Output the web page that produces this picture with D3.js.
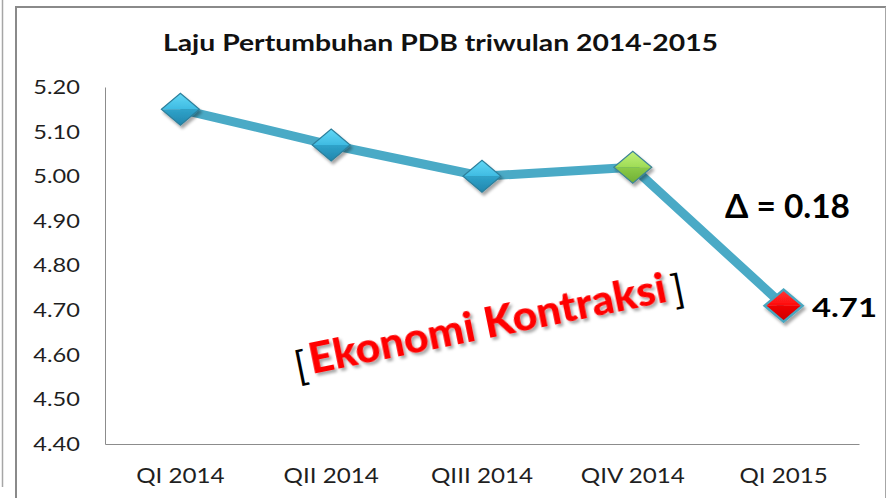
<!DOCTYPE html>
<html>
<head>
<meta charset="utf-8">
<script src="https://cdn.jsdelivr.net/npm/d3@7"></script>
<style>
  body { margin: 0; background: #fff; }
  svg { display: block; }
  text { font-family: Lato, "Open Sans", sans-serif; }
</style>
</head>
<body>
<div id="chart"></div>
<script>
// data
const quarters = ["QI 2014", "QII 2014", "QIII 2014", "QIV 2014", "QI 2015"];
const growth = [5.15, 5.07, 5.00, 5.02, 4.71];
const yTicks = [4.40, 4.50, 4.60, 4.70, 4.80, 4.90, 5.00, 5.10, 5.20];
const title = "Laju Pertumbuhan PDB triwulan 2014-2015";
const deltaText = "Δ = 0.18";
const noteText = "Ekonomi Kontraksi";

// marker look per point (style, not data)
const markerStyle = ["blue", "blue", "blue", "green", "red"];

const W = 887, H = 498;
const plot = { left: 105, right: 859, top: 87, bottom: 444 };

const svg = d3.select("#chart").append("svg")
  .attr("width", W)
  .attr("height", H);

const defs = svg.append("defs");

// gradients for the bevelled diamonds
const grads = {
  blue:  { top: ["#62d8f6", "#3fbbe2"], bot: ["#2fa3ca", "#2286ad"], edge: "#2d7f9b" },
  green: { top: ["#bff07a", "#9fdc55"], bot: ["#8ccb48", "#6fae35"], edge: "#3d8396" },
  red:   { top: ["#ff3a3a", "#ff0a0a"], bot: ["#f00000", "#cc0000"], edge: "#49a6bf" }
};
Object.keys(grads).forEach(k => {
  ["top", "bot"].forEach(part => {
    const g = defs.append("linearGradient")
      .attr("id", `g-${k}-${part}`)
      .attr("x1", 0).attr("y1", 0).attr("x2", 0).attr("y2", 1);
    g.append("stop").attr("offset", "0%").attr("stop-color", grads[k][part][0]);
    g.append("stop").attr("offset", "100%").attr("stop-color", grads[k][part][1]);
  });
});

const shadow = defs.append("filter").attr("id", "shadow")
  .attr("x", "-30%").attr("y", "-30%").attr("width", "160%").attr("height", "160%");
shadow.append("feDropShadow")
  .attr("dx", 2).attr("dy", 3).attr("stdDeviation", 1.6)
  .attr("flood-color", "#000").attr("flood-opacity", 0.35);

// stretch text a bit wider (the original picture is widened)
function stretch(sel, k) {
  sel.each(function() {
    const w = this.getComputedTextLength();
    d3.select(this).attr("textLength", w * k).attr("lengthAdjust", "spacingAndGlyphs");
  });
}
function fitTo(sel, w) {
  sel.attr("textLength", w).attr("lengthAdjust", "spacingAndGlyphs");
}

// frame lines
svg.append("line").attr("x1", 2.5).attr("x2", 2.5).attr("y1", 0).attr("y2", 487)
  .attr("stroke", "#a6a6a6").attr("stroke-width", 1.5);
svg.append("line").attr("x1", 16).attr("x2", 16).attr("y1", 6).attr("y2", H)
  .attr("stroke", "#8a8a8a").attr("stroke-width", 2);
svg.append("line").attr("x1", 15).attr("x2", 886).attr("y1", 7).attr("y2", 7)
  .attr("stroke", "#8a8a8a").attr("stroke-width", 2);
svg.append("line").attr("x1", 885.5).attr("x2", 885.5).attr("y1", 7).attr("y2", H)
  .attr("stroke", "#a6a6a6").attr("stroke-width", 1);

// scales
const x = d3.scaleBand()
  .domain(quarters)
  .range([plot.left, plot.right]);

const y = d3.scaleLinear()
  .domain([4.40, 5.20])
  .range([plot.bottom, plot.top]);

// axes
const yAxis = svg.append("g")
  .attr("transform", `translate(${plot.left},0)`)
  .call(d3.axisLeft(y).tickValues(yTicks).tickFormat(d3.format(".2f")).tickSize(0).tickPadding(25));
yAxis.select(".domain").attr("stroke", "#8c8c8c");
yAxis.selectAll("text")
  .style("font-size", "20px")
  .attr("fill", "#1f1f1f");
stretch(yAxis.selectAll("text"), 1.18);

const xAxis = svg.append("g")
  .attr("transform", `translate(0,${plot.bottom})`)
  .call(d3.axisBottom(x).tickSize(0).tickPadding(24));
xAxis.select(".domain").attr("stroke", "#8c8c8c");
xAxis.selectAll("text")
  .style("font-size", "20.5px")
  .attr("fill", "#1f1f1f");
stretch(xAxis.selectAll("text"), 1.18);

// title
const t = svg.append("text")
  .attr("x", 440.5)
  .attr("y", 51)
  .attr("text-anchor", "middle")
  .style("font-size", "22px")
  .style("font-weight", "bold")
  .attr("fill", "#111")
  .text(title);
fitTo(t, 555);

// line
const pts = quarters.map((q, i) => ({ q, v: growth[i], kind: markerStyle[i] }));
const line = d3.line()
  .x(d => x(d.q) + x.bandwidth() / 2)
  .y(d => y(d.v));

svg.append("path")
  .datum(pts)
  .attr("d", line)
  .attr("fill", "none")
  .attr("stroke", "#4aaac6")
  .attr("stroke-width", 9)
  .attr("stroke-linejoin", "round");

// diamond markers
const hw = 19, hh = 16;
const mk = svg.selectAll("g.marker")
  .data(pts)
  .enter()
  .append("g")
  .attr("class", "marker")
  .attr("transform", d => `translate(${x(d.q) + x.bandwidth() / 2},${y(d.v)})`)
  .attr("filter", "url(#shadow)");

mk.append("path")
  .attr("d", `M${-hw},0 L0,${-hh} L${hw},0 Z`)
  .attr("fill", d => `url(#g-${d.kind}-top)`);
mk.append("path")
  .attr("d", `M${-hw},0 L${hw},0 L0,${hh} Z`)
  .attr("fill", d => `url(#g-${d.kind}-bot)`);
mk.append("path")
  .attr("d", `M${-hw},0 L0,${-hh} L${hw},0 L0,${hh} Z`)
  .attr("fill", "none")
  .attr("stroke", d => grads[d.kind].edge)
  .attr("stroke-width", d => d.kind === "red" ? 2.5 : 1.2);

// annotations
const delta = svg.append("text")
  .attr("x", 725)
  .attr("y", 218)
  .style("font-size", "32px")
  .style("font-weight", "bold")
  .attr("fill", "#000")
  .text(deltaText);
fitTo(delta, 125);

const last = svg.append("text")
  .attr("x", 812)
  .attr("y", 317)
  .style("font-size", "26px")
  .style("font-weight", "bold")
  .attr("fill", "#000")
  .text(d3.format(".2f")(growth[growth.length - 1]));
fitTo(last, 65);

const note = svg.append("g")
  .attr("transform", "translate(312,374) rotate(-11.5)");
note.append("text")
  .attr("x", -3)
  .attr("y", 4)
  .attr("text-anchor", "end")
  .style("font-size", "40px")
  .attr("fill", "#000")
  .text("[");
const nt = note.append("text")
  .attr("x", 0)
  .attr("y", 0)
  .style("font-size", "42px")
  .style("font-weight", "900")
  .attr("fill", "#ff0000")
  .attr("filter", "url(#shadow)")
  .text(noteText);
fitTo(nt, 364);
note.append("text")
  .attr("x", 369)
  .attr("y", 4)
  .style("font-size", "40px")
  .attr("fill", "#000")
  .text("]");
</script>
</body>
</html>
